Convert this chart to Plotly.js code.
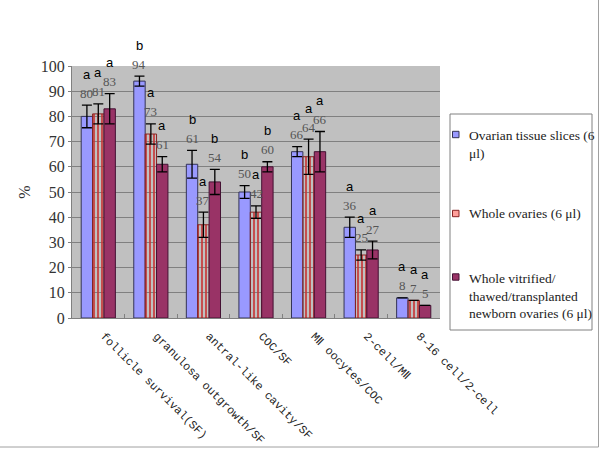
<!DOCTYPE html>
<html>
<head>
<meta charset="utf-8">
<script src="https://cdn.plot.ly/plotly-3.0.1.min.js"></script>
<style>html,body{margin:0;padding:0;background:#fff;}#chart{width:600px;height:449px;}</style>
</head>
<body>
<div id="chart"></div>
<script>
const categories = ["follicle survival(SF)", "granulosa outgrowth/SF", "antral-like cavity/SF", "COC/SF", "MⅡ oocytes/COC", "2-cell/MⅡ", "8-16 cell/2-cell"];
const seriesNames = ["Ovarian tissue slices (6<br>μl)", "Whole ovaries (6 μl)", "Whole vitrified/<br>thawed/transplanted<br>newborn ovaries (6 μl)"];
const slices = [80, 94, 61, 50, 66, 36, 8];
const wholeOvaries = [81, 73, 37, 42, 64, 25, 7];
const vitrified = [83, 61, 54, 60, 66, 27, 5];
const slicesErr = [4.5, 2, 5.5, 2.5, 2, 4, 0];
const wholeErr = [4, 4, 5, 2.5, 7, 2, 0];
const vitrifiedErr = [6, 3, 5, 2, 8, 3.5, 0];
const slicesLetters = ["a", "b", "b", "b", "a", "a", "a"];
const wholeLetters = ["a", "a", "a", "a", "a", "a", "a"];
const vitrifiedLetters = ["a", "a", "b", "b", "a", "a", "a"];

const SERIF = "Liberation Serif, DejaVu Serif, serif";
const SANS = "Liberation Sans, Arial, sans-serif";
const MONO = "Liberation Mono, DejaVu Sans Mono, monospace";

const values = [slices, wholeOvaries, vitrified];
const errs = [slicesErr, wholeErr, vitrifiedErr];
const letters = [slicesLetters, wholeLetters, vitrifiedLetters];
const colors = ["#9999ff", "#ff9f9a", "#993366"];
const lineColors = ["#333355", "#882222", "#441133"];

const traces = values.map((v, j) => {
  const t = {
    type: "bar", x: categories, y: v, name: seriesNames[j], showlegend: false,
    marker: {color: colors[j], line: {color: lineColors[j], width: 1}},
    error_y: {type: "data", array: errs[j], visible: true, color: "#000", thickness: 1.3, width: 5}
  };
  if (j === 1) t.marker.pattern = {shape: "|", fgcolor: "#c83232", size: 4, solidity: 0.4};
  return t;
});

const L = 72, R = 440, T = 66, B = 318;
const px = (x) => (x - L) / (R - L);
const py = (y) => (B - y) / (B - T);
const barW = (R - L) / categories.length * 0.65 / 3;

const annotations = [];
values.forEach((v, j) => {
  v.forEach((val, i) => {
    const top = val + errs[j][i];
    annotations.push({x: categories[i], y: top, xref: "x", yref: "y", text: String(val), showarrow: false,
      xshift: (j - 1) * barW, yshift: 12, yanchor: "middle",
      font: {family: SERIF, size: 13, color: "#555"}});
    annotations.push({x: categories[i], y: top, xref: "x", yref: "y", text: letters[j][i], showarrow: false,
      xshift: (j - 1) * barW, yshift: 31, yanchor: "middle",
      font: {family: SANS, size: 13, color: "#000"}});
  });
});

// manual legend
const legendCenters = [144.5, 213.5, 296];
const markerCenters = [134.5, 213.5, 277];
const shapes = [
  {type: "rect", xref: "paper", yref: "paper", x0: px(450), x1: px(592), y0: py(330), y1: py(114),
   line: {color: "#808080", width: 1}, fillcolor: "#fff"},
  {type: "line", xref: "paper", yref: "paper", x0: px(598.5), x1: px(598.5), y0: py(0), y1: py(447), line: {color: "#a0a0a0", width: 1}},
  {type: "line", xref: "paper", yref: "paper", x0: px(0), x1: px(598.5), y0: py(447), y1: py(447), line: {color: "#a0a0a0", width: 1}}
];
seriesNames.forEach((n, j) => {
  shapes.push({type: "rect", xref: "paper", yref: "paper", x0: px(452.5), x1: px(459), y0: py(markerCenters[j] + 3.2), y1: py(markerCenters[j] - 3.2),
    line: {color: lineColors[j], width: 1}, fillcolor: colors[j]});
  annotations.push({xref: "paper", yref: "paper", x: px(467), y: py(legendCenters[j]), xanchor: "left", yanchor: "middle",
    align: "left", text: n, showarrow: false,
    font: {family: SERIF, size: 13.5, color: "#222"}});
});

const layout = {
  width: 600, height: 449,
  margin: {l: L, r: 600 - R, t: T, b: 449 - B, pad: 0},
  paper_bgcolor: "#fff", plot_bgcolor: "#c0c0c0",
  barmode: "group", bargap: 0.35, bargroupgap: 0,
  showlegend: false,
  xaxis: {
    type: "category", tickangle: 45, ticks: "inside", tickson: "boundaries", ticklen: 4, tickcolor: "#808080",
    showline: true, linecolor: "#808080", linewidth: 1, showgrid: false,
    ticklabelstandoff: 6, ticklabelshift: 6,
    tickfont: {family: MONO, size: 11.5, color: "#222"}
  },
  yaxis: {
    range: [0, 100], dtick: 10, showgrid: true, gridcolor: "#808080", gridwidth: 1,
    showline: true, linecolor: "#808080", linewidth: 1, ticks: "outside", ticklen: 3, tickcolor: "#808080",
    zeroline: false,
    tickfont: {family: SERIF, size: 16, color: "#333"},
    title: {text: "%", standoff: 6, font: {family: SERIF, size: 16, color: "#333"}}
  },
  shapes: shapes,
  annotations: annotations
};

Plotly.newPlot("chart", traces, layout, {displayModeBar: false, staticPlot: true});
</script>
</body>
</html>
